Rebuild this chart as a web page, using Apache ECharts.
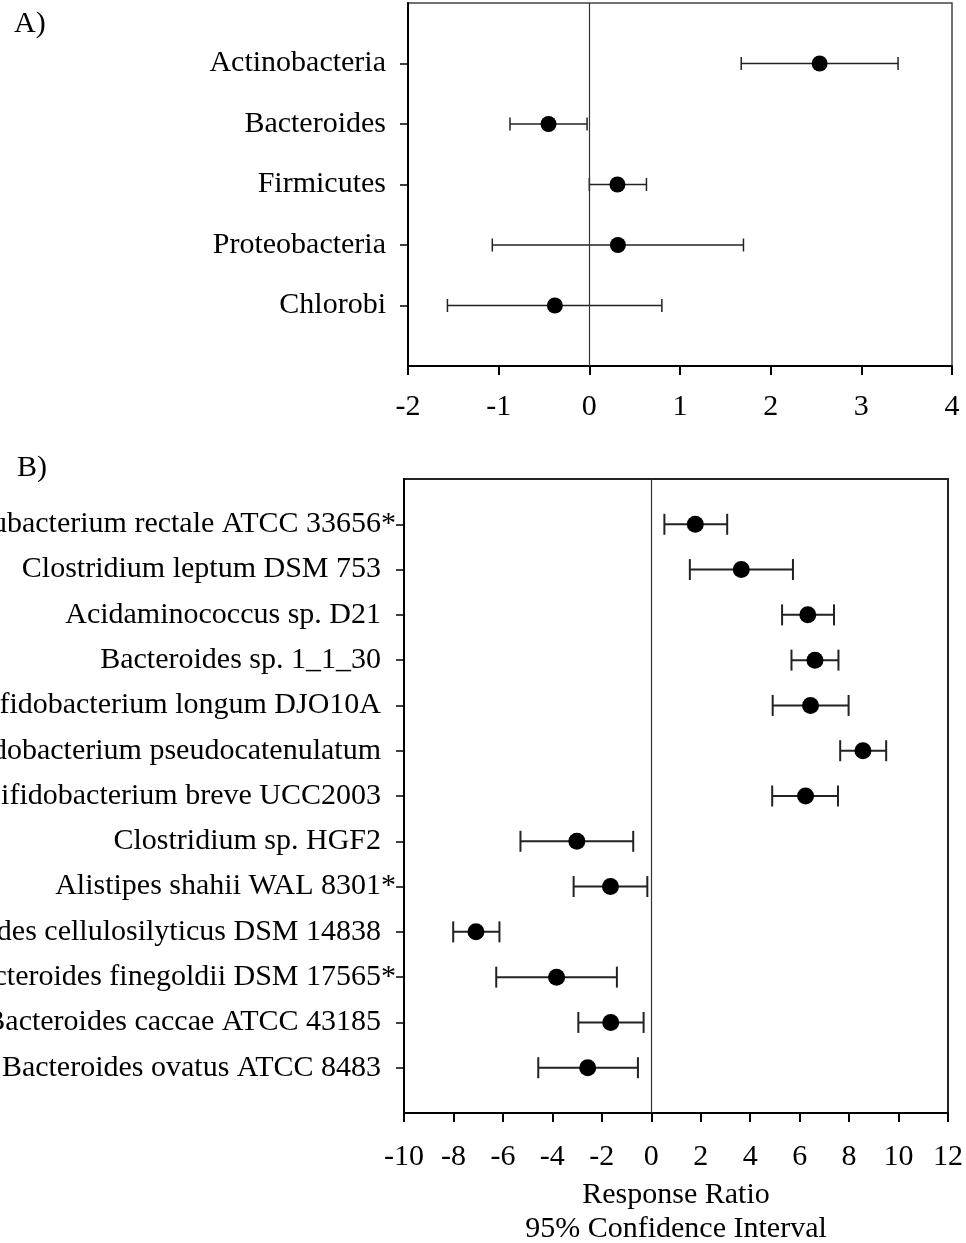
<!DOCTYPE html>
<html>
<head>
<meta charset="utf-8">
<script src="https://cdn.jsdelivr.net/npm/echarts@6/dist/echarts.min.js"></script>
<style>
html,body{margin:0;padding:0;background:#fff;}
#chart{width:966px;height:1243px;}
</style>
</head>
<body>
<div id="chart"></div>
<script>
// Panel A data (phylum level)
const phylaNames = ['Actinobacteria', 'Bacteroides', 'Firmicutes', 'Proteobacteria', 'Chlorobi'];
const phylaMean  = [2.54, -0.45, 0.31, 0.315, -0.38];
const phylaLow   = [1.675, -0.875, 0.0, -1.07, -1.565];
const phylaHigh  = [3.405, -0.025, 0.63, 1.70, 0.80];
const ticksA = [-2, -1, 0, 1, 2, 3, 4];

// Panel B data (species level)
const speciesNames = [
  'Eubacterium rectale ATCC 33656*',
  'Clostridium leptum DSM 753',
  'Acidaminococcus sp. D21',
  'Bacteroides sp. 1_1_30',
  'Bifidobacterium longum DJO10A',
  'Bifidobacterium pseudocatenulatum',
  'Bifidobacterium breve UCC2003',
  'Clostridium sp. HGF2',
  'Alistipes shahii WAL 8301*',
  'Bacteroides cellulosilyticus DSM 14838',
  'Bacteroides finegoldii DSM 17565*',
  'Bacteroides caccae ATCC 43185',
  'Bacteroides ovatus ATCC 8483'
];
const speciesMean = [1.78, 3.64, 6.33, 6.62, 6.44, 8.56, 6.24, -3.01, -1.65, -7.09, -3.83, -1.64, -2.57];
const speciesLow  = [0.53, 1.56, 5.29, 5.67, 4.91, 7.64, 4.89, -5.29, -3.14, -8.01, -6.27, -2.95, -4.57];
const speciesHigh = [3.07, 5.73, 7.39, 7.57, 7.98, 9.50, 7.55, -0.73, -0.16, -6.14, -1.39, -0.31, -0.54];
const ticksB = [-10, -8, -6, -4, -2, 0, 2, 4, 6, 8, 10, 12];

const xTitle = 'Response Ratio\n95% Confidence Interval';

const FONT = '"Liberation Serif", "Times New Roman", serif';
const FS = 30;

function rows(n) { const r = []; for (let i = 1; i <= n; i++) r.push(i); return r; }

function errorRender(capHalf, lw) {
  return function (params, api) {
    const y = api.value(2);
    const p1 = api.coord([api.value(0), y]);
    const p2 = api.coord([api.value(1), y]);
    const st = { stroke: '#222', lineWidth: lw };
    return {
      type: 'group',
      children: [
        { type: 'line', shape: { x1: p1[0], y1: p1[1], x2: p2[0], y2: p2[1] }, style: st },
        { type: 'line', shape: { x1: p1[0], y1: p1[1] - capHalf, x2: p1[0], y2: p1[1] + capHalf }, style: st },
        { type: 'line', shape: { x1: p2[0], y1: p2[1] - capHalf, x2: p2[0], y2: p2[1] + capHalf }, style: st }
      ]
    };
  };
}

const chart = echarts.init(document.getElementById('chart'), null, { renderer: 'canvas' });

function xAxisCfg(gridIndex, ticks, extra) {
  return Object.assign({
    type: 'value', gridIndex: gridIndex,
    min: ticks[0], max: ticks[ticks.length - 1], interval: ticks[1] - ticks[0],
    axisLine: { show: true, onZero: false, lineStyle: { color: '#000', width: 2 } },
    axisTick: { show: true, inside: false, length: 9, lineStyle: { color: '#000', width: 2 } },
    axisLabel: { color: '#000', fontFamily: FONT, fontSize: FS, margin: 20 },
    splitLine: { show: false }
  }, extra || {});
}

function yAxisCfg(gridIndex, names, margin, suffixFn) {
  const r = rows(names.length);
  return {
    type: 'value', gridIndex: gridIndex,
    min: 0, max: names.length + 1, interval: 1, inverse: true,
    axisLine: { show: true, onZero: false, lineStyle: { color: '#000', width: 2 } },
    axisTick: { show: true, inside: false, length: 8, customValues: r, lineStyle: { color: '#000', width: 1.5 } },
    axisLabel: {
      show: true, customValues: r, margin: margin, color: '#000', fontFamily: FONT, fontSize: FS,
      formatter: function (v) {
        const n = names[Math.round(v) - 1];
        if (n === undefined || Math.abs(v - Math.round(v)) > 1e-6) return '';
        return suffixFn ? suffixFn(n) : n;
      }
    },
    splitLine: { show: false }
  };
}

const zeroLine = {
  silent: true, symbol: 'none', animation: false,
  label: { show: false },
  lineStyle: { color: '#333', width: 1.2, type: 'solid' },
  data: [{ xAxis: 0 }]
};

chart.setOption({
  animation: false,
  backgroundColor: '#fff',
  title: [
    { text: 'A)', left: 9, top: 4, textStyle: { fontFamily: FONT, fontSize: FS, fontWeight: 'normal', color: '#000' } },
    { text: 'B)', left: 12, top: 448, textStyle: { fontFamily: FONT, fontSize: FS, fontWeight: 'normal', color: '#000' } }
  ],
  grid: [
    { left: 408, top: 3, width: 544, height: 363, show: true, borderColor: '#444', borderWidth: 1.5, backgroundColor: 'transparent', containLabel: false, outerBoundsMode: 'none' },
    { left: 404, top: 479, width: 544, height: 634, show: true, borderColor: '#222', borderWidth: 2, backgroundColor: 'transparent', containLabel: false, outerBoundsMode: 'none' }
  ],
  xAxis: [
    xAxisCfg(0, ticksA, { axisLabel: { color: '#000', fontFamily: FONT, fontSize: FS, margin: 26 } }),
    xAxisCfg(1, ticksB, {
      axisLabel: { color: '#000', fontFamily: FONT, fontSize: FS, margin: 29 },
      name: xTitle, nameLocation: 'middle', nameGap: 65,
      nameTextStyle: { fontFamily: FONT, fontSize: FS, color: '#000', lineHeight: 34 }
    })
  ],
  yAxis: [
    yAxisCfg(0, phylaNames, 22, null),
    yAxisCfg(1, speciesNames, 8, function (n) { return /\*$/.test(n) ? n : n + '  '; })
  ],
  series: [
    {
      type: 'custom', xAxisIndex: 0, yAxisIndex: 0, silent: true,
      renderItem: errorRender(6.5, 1.5),
      encode: { x: [0, 1], y: 2 },
      data: phylaNames.map((n, i) => [phylaLow[i], phylaHigh[i], i + 1]),
      z: 3
    },
    {
      type: 'scatter', xAxisIndex: 0, yAxisIndex: 0, silent: true,
      symbol: 'circle', symbolSize: 16, itemStyle: { color: '#000', opacity: 1 },
      data: phylaNames.map((n, i) => [phylaMean[i], i + 1]),
      markLine: zeroLine, z: 4
    },
    {
      type: 'custom', xAxisIndex: 1, yAxisIndex: 1, silent: true,
      renderItem: errorRender(10.5, 2),
      encode: { x: [0, 1], y: 2 },
      data: speciesNames.map((n, i) => [speciesLow[i], speciesHigh[i], i + 1]),
      z: 3
    },
    {
      type: 'scatter', xAxisIndex: 1, yAxisIndex: 1, silent: true,
      symbol: 'circle', symbolSize: 17, itemStyle: { color: '#000', opacity: 1 },
      data: speciesNames.map((n, i) => [speciesMean[i], i + 1]),
      markLine: zeroLine, z: 4
    }
  ]
});
</script>
</body>
</html>
